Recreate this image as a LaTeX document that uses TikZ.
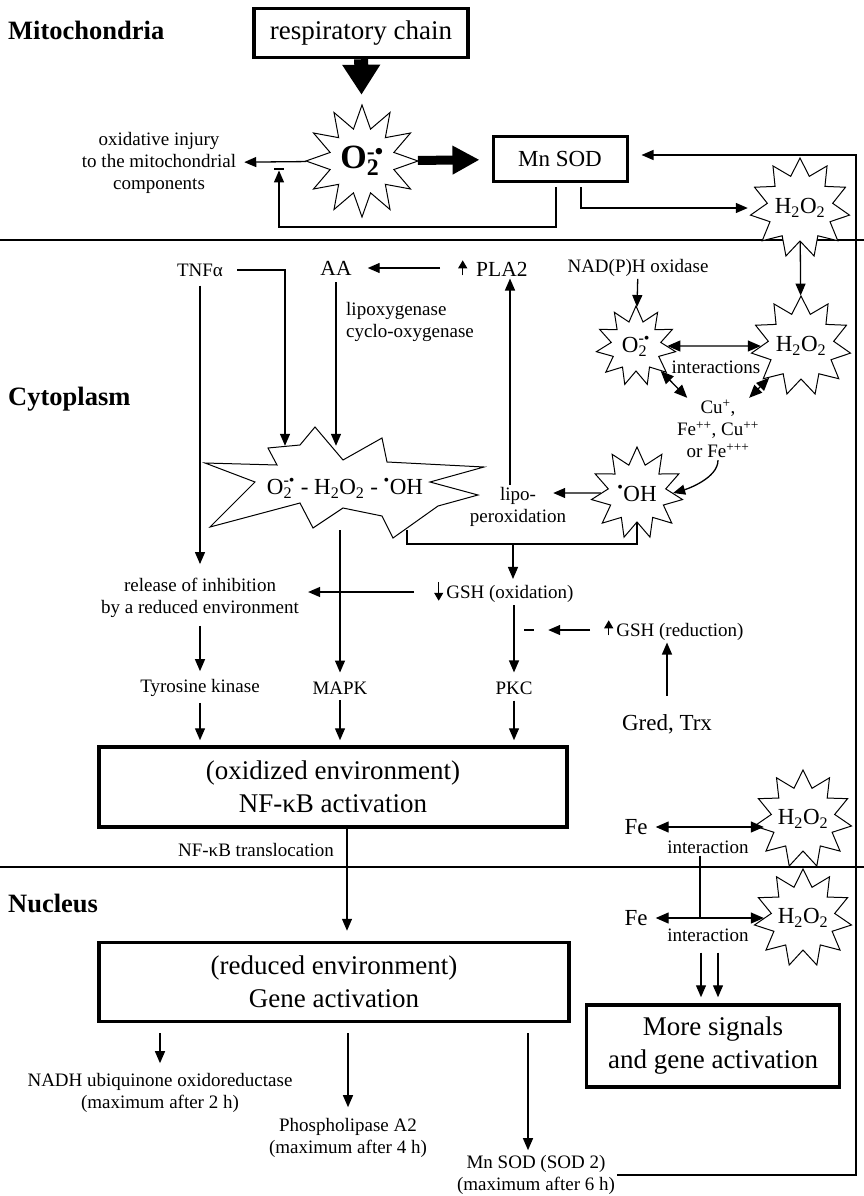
\documentclass[tikz,border=0pt]{standalone}
\usepackage{fontspec}
\setmainfont{Liberation Serif}
\usetikzlibrary{arrows.meta,shapes.symbols}

\newcommand\superox{O\rlap{\textsubscript{2}}\textsuperscript{-\textbullet}}
\newcommand\hperox{H\textsubscript{2}O\textsubscript{2}}
\newcommand\hydrox{\textsuperscript{\textbullet}OH}
\newcommand\zw[1]{\makebox[0pt]{#1}}
\newcommand\uptick{\tikz[baseline=-1pt]\draw[line width=1.2pt,-{Triangle[length=8pt,width=9pt]}] (0pt,0pt) -- (0pt,15pt);}
\newcommand\downtick{\tikz[baseline=-1pt]\draw[line width=1.2pt,-{Triangle[length=8pt,width=9pt]}] (0pt,16pt) -- (0pt,-3pt);}

\begin{document}
\begin{tikzpicture}[x=1pt,y=-1pt,
  every node/.style={font=\fontsize{19}{22}\selectfont, inner sep=2pt},
  region/.style={font=\fontsize{26.5}{30}\selectfont\bfseries, anchor=base west},
  txt/.style={align=center},
  big/.style={font=\fontsize{23}{25}\selectfont},
  bigbox/.style={draw, line width=3.5pt, align=center, font=\fontsize{27}{33}\selectfont},
  burst/.style={starburst, draw, fill=white, line width=1pt, random starburst=0,
    starburst points=11, inner sep=0pt, font=\fontsize{23}{25}\selectfont},
  arr/.style={line width=1.3pt, -{Triangle[length=12pt,width=10pt]}},
  dbl/.style={line width=1.3pt, {Triangle[length=13pt,width=11pt]}-{Triangle[length=13pt,width=11pt]}},
  plain/.style={line width=1.3pt}]

\path[use as bounding box] (0,0) rectangle (864,1196);

\draw[plain] (0,240) -- (864,240);
\draw[plain] (0,867) -- (864,867);

\node[region] (mito) at (6,40) {Mitochondria};
\node[region] (cyto) at (6,405) {Cytoplasm};
\node[region] (nucl) at (6,912) {Nucleus};

% mitochondria
\node[bigbox, minimum width=214pt, minimum height=49pt] (resp_chain) at (361,33) {respiratory chain};
\node[burst, starburst points=12, starburst point height=23pt, minimum size=112pt] (o2_top) at (362,161)
  {\zw{\fontsize{34}{36}\selectfont\bfseries\superox}};
\node[draw, line width=3pt, minimum width=134pt, minimum height=45pt, big] (mn_sod) at (560,159) {Mn SOD};
\node[txt] (injury) at (159,163) {oxidative injury\\to the mitochondrial\\components};
\node[inner sep=0pt] (minus_a) at (279,169) {\rule{10pt}{2.5pt}};
\node[burst, starburst point height=17pt, minimum size=100pt] (h2o2_top) at (800,208) {\zw{\hperox}};

\coordinate (fb_low) at (279,227);
\coordinate (fb_right) at (856,1175);

\draw[line width=14pt, -{Triangle[length=30pt,width=36pt]}, shorten >=10pt] (resp_chain) -- (o2_top);
\draw[line width=9pt, -{Triangle[length=27pt,width=27pt]}, shorten >=12pt] (o2_top) -- (mn_sod);
\draw[arr, shorten >=6pt] (o2_top) -- (injury);
\draw[arr, shorten <=4pt] ([xshift=-4pt]mn_sod.south) |- (fb_low) -- (minus_a.south);
\draw[arr, shorten <=4pt, shorten >=12pt] ([xshift=21pt]mn_sod.south) |- (h2o2_top);

% cytoplasm
\node (tnf) at (200,270) {TNFα};
\node[font=\fontsize{21.5}{24}\selectfont] (aa) at (336,268) {AA};
\node[font=\fontsize{21.5}{24}\selectfont, anchor=west, inner xsep=18pt] (pla2) at (440,268) {\uptick\hspace{9pt}PLA2};
\node (nadph) at (638,268) {NAD(P)H oxidase};
\node[anchor=west, align=left] (lipox) at (344,322) {lipoxygenase\\cyclo-oxygenase};
\node[burst, starburst point height=15pt, minimum size=80pt] (o2_s) at (636,346) {\zw{\superox}};
\node[burst, starburst point height=17pt, minimum size=100pt] (h2o2_m) at (801,346) {\zw{\hperox}};
\node (inter) at (716,367) {interactions};
\node[txt] (cu) at (718,429) {Cu\textsuperscript{+},\\Fe\textsuperscript{++}, Cu\textsuperscript{++}\\or Fe\textsuperscript{+++}};
\node[burst, starburst point height=17pt, minimum size=92pt] (oh) at (637,493) {\zw{\hydrox}};
\node[txt] (lipo) at (518,507) {lipo-\\peroxidation};

\draw[line width=1pt, fill=white] (205,463) -- (277,465) -- (268,448) -- (300,445) -- (315,427)
  -- (343,460) -- (382,438) -- (387,462) -- (484,467) -- (430,482) -- (478,495) -- (438,506)
  -- (393,538) -- (382,516) -- (343,508) -- (313,528) -- (300,503)
  -- (210,527) -- (255,482) -- cycle;
\node[big, minimum width=278pt, minimum height=84pt] (ros) at (345,488) {\superox{} - \hperox{} - \hydrox};

\node[txt] (release) at (200,598) {release of inhibition\\by a reduced environment};
\node[anchor=west, inner xsep=20pt] (gsh_ox) at (414,592) {\downtick\,GSH (oxidation)};
\node[anchor=west, inner xsep=14pt] (gsh_red) at (590,630) {\uptick\,GSH (reduction)};
\node[inner sep=0pt] (minus_b) at (529,630) {\rule{10pt}{2.5pt}};
\node[big, anchor=base] (gred) at (667,730) {Gred, Trx};
\node (tyro) at (200,688) {Tyrosine kinase};
\node (mapk) at (340,688) {MAPK};
\node (pkc) at (514,688) {PKC};
\node[bigbox, minimum width=468pt, minimum height=80pt] (nfkb) at (333,787) {(oxidized environment)\\NF-κB activation};
\node (transl) at (256,850) {NF-κB translocation};

\coordinate (brk) at (513,544);

\draw[arr, shorten <=12pt] (tnf.east) -| ([xshift=-60pt]ros.north);
\draw[arr, shorten <=5pt] (aa.south) -- (aa.south |- ros.north);
\draw[arr, shorten >=14pt] (pla2.west) -- (aa.east);
\draw[arr] ([xshift=-8pt]lipo.north) -- ([xshift=-8pt]lipo.north |- pla2.south);
\draw[arr] (nadph) -- (o2_s);
\draw[arr] (h2o2_top) -- (h2o2_m);
\draw[dbl] (o2_s) -- (h2o2_m);
\draw[dbl] (o2_s) -- (cu);
\draw[dbl] (h2o2_m) -- (cu);
\draw[arr] (cu.south) .. controls +(0,18) and +(14,-4) .. (oh.east);
\draw[arr, shorten >=-15pt] (oh) -- (lipo.east |- oh);
\draw[plain] ([xshift=62pt]ros.south) |- (brk) -| (oh.south);
\draw[arr] (brk) -- (brk |- gsh_ox.north);
\draw[arr, shorten <=7pt, shorten >=12pt] (tnf.south) -- (tnf.south |- release.north);
\draw[arr, shorten >=7pt] (ros.south -| mapk.north) -- (mapk.north);
\draw[arr, shorten >=7pt] (gsh_ox.west) -- (release.east |- gsh_ox.west);
\draw[arr, shorten >=7pt] (gsh_ox.south -| pkc.north) -- (pkc.north);
\draw[arr, shorten >=14pt] (gsh_red.west) -- (minus_b.east);
\draw[arr, shorten <=16pt] (gred.north) -- (gred.north |- gsh_red.south);
\draw[arr, shorten <=6pt, shorten >=6pt] (release.south) -- (tyro.north);
\foreach \n in {tyro,mapk,pkc}
  \draw[arr, shorten <=4pt, shorten >=5pt] (\n.south) -- (\n.south |- nfkb.north);

% nucleus
\node[bigbox, minimum width=470pt, minimum height=79pt] (gene) at (334,982) {(reduced environment)\\Gene activation};
\node[txt] (nadh) at (160,1093) {NADH ubiquinone oxidoreductase\\(maximum after 2 h)};
\node[txt] (phos) at (348,1138) {Phospholipase A2\\(maximum after 4 h)};
\node[txt] (sod2) at (536,1175) {Mn SOD (SOD 2)\\(maximum after 6 h)};
\node[big] (fe_a) at (636,827) {Fe};
\node[burst, starburst point height=17pt, minimum size=98pt] (h2o2_a) at (803,819) {\zw{\hperox}};
\node (inter_a) at (708,847) {interaction};
\node[big] (fe_b) at (636,918) {Fe};
\node[burst, starburst point height=17pt, minimum size=98pt] (h2o2_b) at (803,918) {\zw{\hperox}};
\node (inter_b) at (708,935) {interaction};
\node[bigbox, minimum width=253pt, minimum height=82pt] (more) at (713,1046) {More signals\\and gene activation};

\draw[arr, shorten >=10pt] ([xshift=14pt]nfkb.south) -- ([xshift=14pt]nfkb.south |- gene.north);
\draw[arr, shorten <=10pt, shorten >=8pt] (gene.south -| nadh.north) -- (nadh.north);
\draw[arr, shorten <=10pt, shorten >=9pt] (gene.south -| phos.north) -- (phos.north);
\draw[arr, shorten <=10pt, shorten >=3pt] ([xshift=-8pt]gene.south -| sod2.north) -- ([xshift=-8pt]sod2.north);
\draw[arr, shorten >=13pt] (sod2.east) -- (fb_right) |- ([yshift=4pt]mn_sod.east);
\draw[dbl, shorten <=6pt] (fe_a) -- (fe_a -| h2o2_a.west);
\draw[dbl, shorten <=6pt] (fe_b) -- (fe_b -| h2o2_b.west);
\draw[plain] ([xshift=-8pt]inter_a.south) -- ([xshift=-8pt]inter_a.south |- fe_b);
\draw[arr, shorten <=9pt, shorten >=6pt] ([xshift=-7pt]inter_b.south) -- ([xshift=-7pt]inter_b.south |- more.north);
\draw[arr, shorten <=9pt, shorten >=6pt] ([xshift=10pt]inter_b.south) -- ([xshift=10pt]inter_b.south |- more.north);

\end{tikzpicture}
\end{document}
